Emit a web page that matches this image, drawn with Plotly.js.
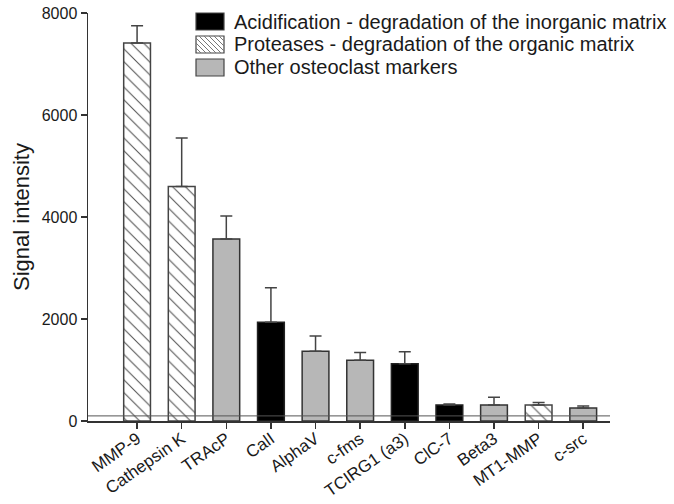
<!DOCTYPE html>
<html><head><meta charset="utf-8">
<script src="https://cdn.plot.ly/plotly-3.0.1.min.js"></script>
<style>html,body{margin:0;padding:0;background:#fff}</style>
</head><body>
<div id="chart" style="width:674px;height:504px"></div>
<script>
const categories = ["MMP-9","Cathepsin K","TRAcP","CalI","AlphaV","c-fms","TCIRG1 (a3)","ClC-7","Beta3","MT1-MMP","c-src"];
const values = [7410, 4600, 3570, 1935, 1370, 1190, 1125, 315, 315, 315, 255];
const errorsUp = [340, 950, 450, 680, 295, 155, 235, 20, 150, 50, 40];
const groups = ["prot","prot","other","acid","other","other","acid","acid","other","prot","other"];
const groupKeys = ["acid","prot","other"];
const groupNames = {
  acid: "Acidification - degradation of the inorganic matrix",
  prot: "Proteases - degradation of the organic matrix",
  other: "Other osteoclast markers"
};
const baselineValue = 100;

const styles = {
  acid: {color: "#000000", line: {color: "#222", width: 1.5}},
  prot: {color: "#ffffff", line: {color: "#444", width: 1.5},
         pattern: {shape: "\\", fgcolor: "#555", bgcolor: "#fff", size: 9, solidity: 0.12}},
  other: {color: "#b7b7b7", line: {color: "#333", width: 1.5}}
};

const traces = groupKeys.map(g => {
  const idx = groups.map((v,i)=> v===g ? i : -1).filter(i=>i>=0);
  return {
    type: "bar",
    name: groupNames[g],
    x: idx.map(i=>categories[i]),
    y: idx.map(i=>values[i]),
    width: 0.6,
    marker: styles[g],
    showlegend: false,
    error_y: {type: "data", symmetric: false, array: idx.map(i=>errorsUp[i]),
              arrayminus: idx.map(()=>0), color: "#444", thickness: 1.5, width: 6}
  };
});

// plot area in pixels (for custom legend placement)
const W = 674, H = 504, M = {l: 88, r: 64, t: 13, b: 83};
const pw = W - M.l - M.r, ph = H - M.t - M.b;
const px = x => (x - M.l) / pw;
const py = y => (H - M.b - y) / ph;

const legendBoxes = [
  {x0: 196, x1: 224, y0: 13, y1: 30},
  {x0: 196, x1: 224, y0: 36, y1: 53},
  {x0: 196, x1: 224, y0: 59, y1: 76}
];
const legendFill = {acid: "#000000", prot: "#ffffff", other: "#b7b7b7"};
const shapes = [{type: "line", xref: "paper", x0: 0, x1: 1, yref: "y", y0: baselineValue, y1: baselineValue,
            line: {color: "#555", width: 1}, layer: "above"}];
const annotations = [];
groupKeys.forEach((g, k) => {
  const b = legendBoxes[k];
  shapes.push({type: "rect", xref: "paper", yref: "paper", x0: px(b.x0), x1: px(b.x1), y0: py(b.y1), y1: py(b.y0),
               fillcolor: legendFill[g], line: {color: "#444", width: 1.2}, layer: "above"});
  if (g === "prot") {
    const w = b.x1 - b.x0, h = b.y1 - b.y0;
    let d = "";
    for (let c = -h; c < w; c += 5) {
      const s = Math.max(0, -c), e = Math.min(h, w - c);
      if (e > s) {
        d += `M${px(b.x0 + c + s)},${py(b.y0 + s)} L${px(b.x0 + c + e)},${py(b.y0 + e)} `;
      }
    }
    shapes.push({type: "path", xref: "paper", yref: "paper", path: d, line: {color: "#777", width: 1}, layer: "above"});
  }
  annotations.push({xref: "paper", yref: "paper", x: px(b.x1 + 8), y: py((b.y0 + b.y1) / 2),
                    xanchor: "left", yanchor: "middle", showarrow: false, text: groupNames[g],
                    font: {size: 20, color: "#1a1a1a"}});
});

const layout = {
  width: W, height: H,
  margin: M,
  paper_bgcolor: "#fff", plot_bgcolor: "#fff",
  font: {family: "Arial, 'Liberation Sans', sans-serif", color: "#1a1a1a", size: 16},
  barmode: "overlay",
  showlegend: false,
  xaxis: {type: "category", categoryorder: "array", categoryarray: categories,
          range: [-1.1, 10.6], showline: true, linecolor: "#333", linewidth: 1.5,
          ticks: "outside", ticklen: 6, tickcolor: "#333", tickwidth: 1.5,
          tickangle: -35, tickfont: {size: 17}, ticklabelstandoff: -6,
          showgrid: false, zeroline: false, fixedrange: true},
  yaxis: {range: [0, 8000], tickvals: [0,2000,4000,6000,8000], showline: true,
          linecolor: "#333", linewidth: 1.5, ticks: "outside", ticklen: 6, tickcolor: "#333",
          tickwidth: 1.5, tickfont: {size: 16}, showgrid: false, zeroline: false,
          title: {text: "Signal intensity", font: {size: 22}, standoff: 6}},
  shapes: shapes,
  annotations: annotations
};

Plotly.newPlot("chart", traces, layout, {displayModeBar: false, staticPlot: true});
</script>
</body></html>
